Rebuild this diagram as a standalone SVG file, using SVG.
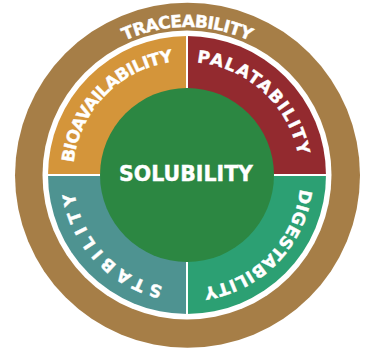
<svg xmlns="http://www.w3.org/2000/svg" width="368" height="349" viewBox="0 0 368 349">
  <style>
    .lbl { font-family: "DejaVu Sans", "Liberation Sans", sans-serif; font-weight: bold; fill: #ffffff; stroke: #ffffff; stroke-width: 0.4; }
    .arc { font-size: 17px; }
    .div { stroke: #ffffff; stroke-width: 2; }
  </style>
  <defs>
    <path id="pTrace" d="M39,175 A148,148 0 0 1 335,175"/>
    <path id="pBio" d="M107.23,256.45 A114,114 0 0 1 266.77,93.55"/>
    <path id="pPal" d="M103.36,97.55 A114,114 0 0 1 270.64,252.45"/>
    <path id="pDig" d="M266.90,93.68 A114,114 0 0 1 107.10,256.32"/>
    <path id="pSta" d="M266.20,257.00 A114,114 0 0 1 107.80,93.00"/>
  </defs>
  <rect width="368" height="349" fill="#ffffff"/>
  <g id="traceability">
    <circle cx="187.5" cy="175.3" r="172.5" fill="#A67E47"/>
    <circle cx="187" cy="175" r="144.5" fill="#ffffff"/>
    <text class="lbl arc" letter-spacing="-0.6"><textPath href="#pTrace" startOffset="50%" text-anchor="middle">TRACEABILITY</textPath></text>
  </g>
  <g id="bioavailability">
    <path d="M187,175 L48,175 A139,139 0 0 1 187,36 Z" fill="#D4953A"/>
    <text class="lbl arc" letter-spacing="-0.6"><textPath href="#pBio" startOffset="50%" text-anchor="middle">BIOAVAILABILITY</textPath></text>
  </g>
  <g id="palatability">
    <path d="M187,175 L187,36 A139,139 0 0 1 326,175 Z" fill="#932A2F"/>
    <text class="lbl arc" letter-spacing="1.5"><textPath href="#pPal" startOffset="50%" text-anchor="middle">PALATABILITY</textPath></text>
  </g>
  <g id="digestability">
    <path d="M187,175 L326,175 A139,139 0 0 1 187,314 Z" fill="#2CA073"/>
    <text class="lbl arc" letter-spacing="0.5"><textPath href="#pDig" startOffset="50%" text-anchor="middle">DIGESTABILITY</textPath></text>
  </g>
  <g id="stability">
    <path d="M187,175 L187,314 A139,139 0 0 1 48,175 Z" fill="#4E9391"/>
    <text class="lbl arc" letter-spacing="5.1"><textPath href="#pSta" startOffset="51%" text-anchor="middle">STABILITY</textPath></text>
  </g>
  <g id="dividers">
    <line class="div" x1="187" y1="35" x2="187" y2="315"/>
    <line class="div" x1="47" y1="175" x2="327" y2="175"/>
  </g>
  <g id="solubility">
    <circle cx="187" cy="175" r="87" fill="#2C8742"/>
    <text class="lbl" x="186" y="181" font-size="20.5" text-anchor="middle">SOLUBILITY</text>
  </g>
</svg>
